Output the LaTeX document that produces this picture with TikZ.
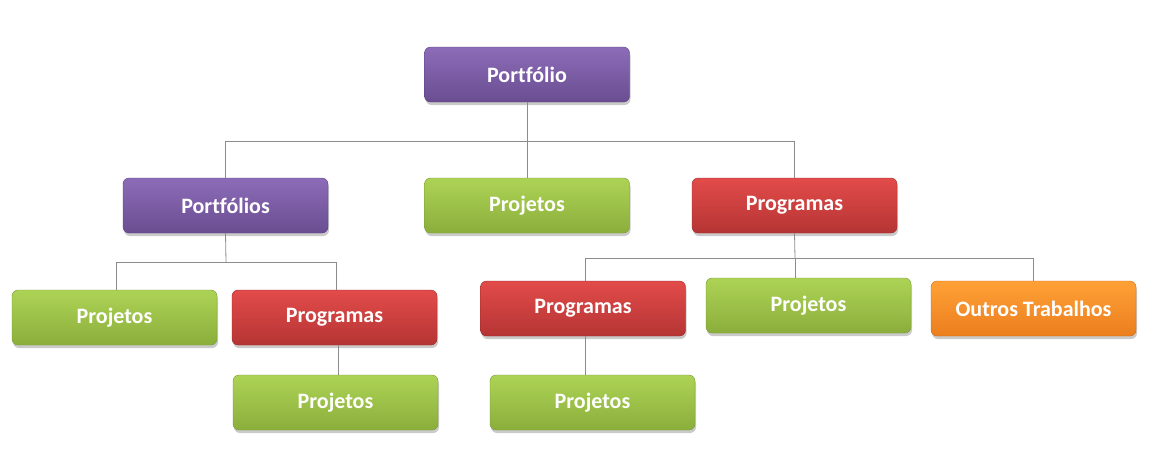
\documentclass[tikz,border=0pt]{standalone}
\usepackage{fontspec}
\setmainfont[Ligatures=NoCommon]{Carlito}
\usetikzlibrary{shadows}
\definecolor{linegray}{HTML}{8C8C8C}
\tikzset{
  box/.style={rounded corners=6pt, minimum width=205pt, minimum height=55pt,
    inner sep=0pt, text=white, font=\fontsize{22}{26}\selectfont\bfseries,
    drop shadow={shadow xshift=1pt, shadow yshift=-3pt, opacity=0.35, fill=black!60}},
  purplebox/.style={box, draw=purpleD, top color=purpleT, bottom color=purpleB},
  greenbox/.style={box, draw=greenD, top color=greenT, bottom color=greenB},
  redbox/.style={box, draw=redD, top color=redT, bottom color=redB},
  orangebox/.style={box, draw=orangeD, top color=orangeT, bottom color=orangeB},
  link/.style={draw=linegray, line width=0.8pt},
}
\definecolor{purpleT}{HTML}{8C6CB8}
\definecolor{purpleB}{HTML}{6A4D91}
\definecolor{purpleD}{HTML}{5A407C}
\definecolor{greenT}{HTML}{ADD355}
\definecolor{greenB}{HTML}{8BAE3C}
\definecolor{greenD}{HTML}{769A30}
\definecolor{redT}{HTML}{E24B4A}
\definecolor{redB}{HTML}{B53534}
\definecolor{redD}{HTML}{9A2B2A}
\definecolor{orangeT}{HTML}{FFA136}
\definecolor{orangeB}{HTML}{EB7E1E}
\definecolor{orangeD}{HTML}{C96A14}
\begin{document}
\begin{tikzpicture}[x=1pt,y=-1pt]
\useasboundingbox (0,0) rectangle (1149,451);
\coordinate (r1) at (527,141);
\coordinate (p1) at (226,262);
\coordinate (q1) at (795,258);
% nodes
\node[purplebox] (root) at (527,74.5) {Portfólio};
\node[purplebox] (pfs) at (225.5,205.5) {Portfólios};
\node[greenbox] (proj1) at (527,205.5) {Projetos};
\node[redbox] (prog1) at (794.5,205.5) {Programas};
\node[greenbox] (proj2) at (114.5,317.5) {Projetos};
\node[redbox] (prog2) at (334.5,317.5) {Programas};
\node[greenbox] (proj3) at (335.5,402.5) {Projetos};
\node[redbox] (prog3) at (583,308.5) {Programas};
\node[greenbox] (proj4) at (808.5,305.5) {Projetos};
\node[orangebox] (outros) at (1033.5,308.5) {Outros Trabalhos};
\node[greenbox] (proj5) at (592.5,402.5) {Projetos};
% connectors
\draw[link] (root.south) -- (r1);
\draw[link] (pfs.north) |- (r1);
\draw[link] (prog1.north) |- (r1);
\draw[link] (proj1.north) -- (r1);
\draw[link] (pfs.south) -- (p1);
\draw[link] (proj2.north -| 116,0) |- (p1);
\draw[link] (prog2.north -| 336,0) |- (p1);
\draw[link] (prog2.south -| 338,0) -- (proj3.north -| 338,0);
\draw[link] (prog1.south) -- (q1);
\draw[link] (prog3.north -| 585,0) |- (q1);
\draw[link] (outros.north -| 1033,0) |- (q1);
\draw[link] (q1) -- (proj4.north -| 795,0);
\draw[link] (prog3.south -| 585,0) -- (proj5.north -| 585,0);
\end{tikzpicture}
\end{document}
